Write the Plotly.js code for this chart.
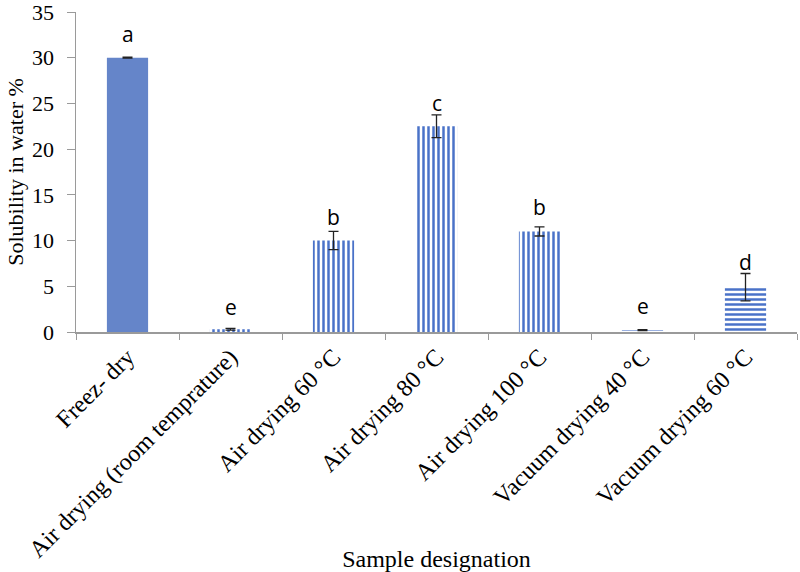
<!DOCTYPE html>
<html>
<head>
<meta charset="utf-8">
<script src="https://cdn.plot.ly/plotly-3.0.1.min.js"></script>
<style>html,body{margin:0;padding:0;background:#fff;}#chart{width:800px;height:572px;}</style>
</head>
<body>
<div id="chart"></div>
<script>
const categories = ["Freez- dry", "Air drying (room temprature)", "Air drying 60 °C", "Air drying 80 °C", "Air drying 100 °C", "Vacuum drying 40 °C", "Vacuum drying 60 °C"];
const solubility = [30, 0.3, 10, 22.5, 11, 0.2, 4.9];
const errors = [0.05, 0.1, 1.0, 1.25, 0.5, 0.05, 1.5];
const letters = ["a", "e", "b", "c", "b", "e", "d"];
const letterY = [32.6, 2.7, 12.6, 25.0, 13.7, 2.8, 7.7];
const patterns = ["", "|", "|", "|", "|", "-", "-"];
const yTicks = [0, 5, 10, 15, 20, 25, 30, 35];

const blue = "#4a72c8";
const trace = {
  type: "bar",
  x: categories,
  y: solubility,
  width: 0.4,
  marker: {
    color: patterns.map(p => p === "" ? "#6585c9" : blue),
    line: {width: 0},
    pattern: {
      shape: patterns,
      fgcolor: patterns.map(() => blue),
      bgcolor: patterns.map(() => "#ffffff"),
      fillmode: "replace",
      size: 5,
      solidity: 0.5
    }
  },
  error_y: {type: "data", array: errors, visible: true, color: "#222222", thickness: 1.3, width: 5},
  hoverinfo: "none"
};

const annotations = categories.map((c, i) => ({
  x: c, y: letterY[i], xref: "x", yref: "y",
  text: letters[i], showarrow: false, yanchor: "middle",
  font: {family: "Open Sans, Liberation Sans, Arial, sans-serif", size: 21, color: "#000"}
}));

const layout = {
  width: 800, height: 572,
  margin: {l: 76, r: 3, t: 12, b: 240},
  paper_bgcolor: "#fff", plot_bgcolor: "#fff",
  showlegend: false,
  font: {family: "Liberation Serif, Times New Roman, serif", color: "#000"},
  xaxis: {
    type: "category",
    tickangle: -45,
    tickson: "boundaries",
    ticks: "outside", ticklen: 6, tickcolor: "#9a9a9a",
    showline: true, linecolor: "#9a9a9a", linewidth: 1.5,
    showgrid: false, zeroline: false,
    tickfont: {family: "Liberation Serif, Times New Roman, serif", size: 24, color: "#000"},
    title: {text: "Sample designation", font: {family: "Liberation Serif, Times New Roman, serif", size: 24, color: "#000"}, standoff: 6}
  },
  yaxis: {
    range: [0, 35.001],
    tickvals: yTicks,
    ticks: "outside", ticklen: 8, tickcolor: "#9a9a9a",
    ticklabelstandoff: 8,
    ticklabeloverflow: "allow",
    showline: true, linecolor: "#9a9a9a", linewidth: 1.5,
    showgrid: false, zeroline: false,
    tickfont: {family: "Liberation Serif, Times New Roman, serif", size: 22, color: "#000"},
    title: {text: "Solubility in water %", font: {family: "Liberation Serif, Times New Roman, serif", size: 22, color: "#000"}, standoff: 2}
  },
  annotations: annotations
};

Plotly.newPlot("chart", [trace], layout, {displayModeBar: false, staticPlot: true});
</script>
</body>
</html>
